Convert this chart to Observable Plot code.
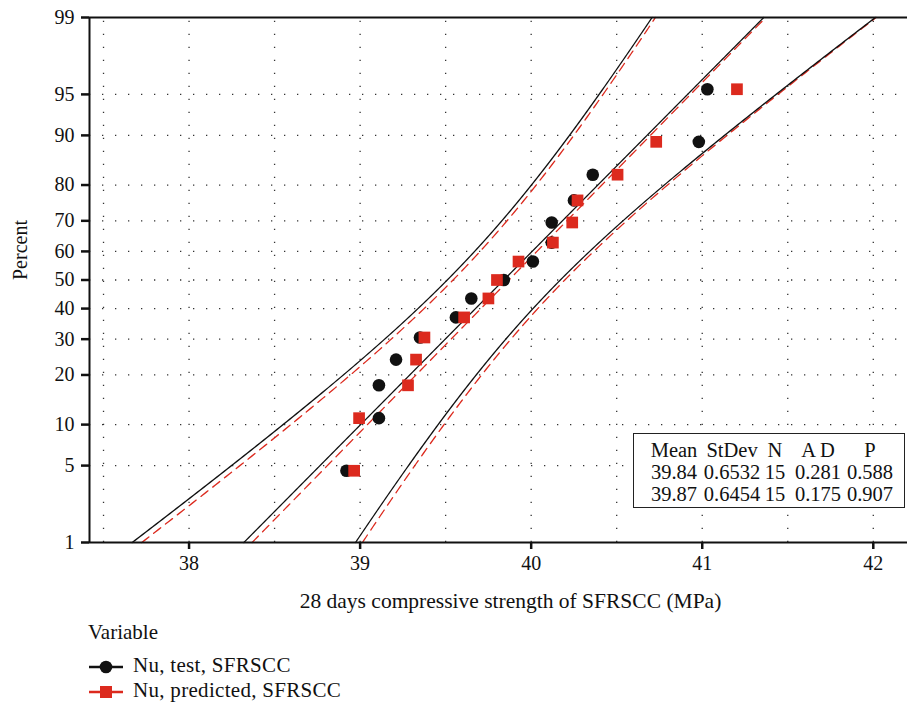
<!DOCTYPE html>
<html><head><meta charset="utf-8">
<script src="https://cdn.jsdelivr.net/npm/d3@7"></script>
<script src="https://cdn.jsdelivr.net/npm/@observablehq/plot@0.6"></script>
<style>
body{margin:0;background:#fff;font-family:"Liberation Serif",serif;color:#111;}
#wrap{position:relative;width:907px;height:705px;overflow:hidden;}
#stats{position:absolute;left:633px;top:433px;width:270px;height:73px;border:1.5px solid #222;background:#fff;font-size:20.5px;}
#stats div{position:absolute;transform:translateX(-50%);white-space:nowrap;line-height:22px;}
#legend{position:absolute;left:80px;top:620px;font-size:21px;}
.row{position:absolute;left:9px;white-space:nowrap;height:24px;}
.row svg{position:absolute;left:0;top:0;}
.row span{position:absolute;left:44px;top:0;line-height:24px;letter-spacing:0.3px;}
</style></head><body><div id="wrap"></div>
<script>
// ---- data ----
const seriesNames = ["Nu, test, SFRSCC", "Nu, predicted, SFRSCC"];
const seriesColors = ["#111111", "#dc2a1e"];
const testValues = [38.92, 39.11, 39.11, 39.21, 39.35, 39.56, 39.65, 39.84, 40.01, 40.12, 40.12, 40.25, 40.36, 40.98, 41.03];
const predictedValues = [38.965, 38.994, 39.28, 39.327, 39.376, 39.608, 39.75, 39.80, 39.926, 40.127, 40.24, 40.271, 40.505, 40.731, 41.203];
const statHeaders = ["Mean", "StDev", "N", "A D", "P"];
const statMean = [39.84, 39.87];
const statStDev = [0.6532, 0.6454];
const statN = [15, 15];
const statAD = [0.281, 0.175];
const statP = [0.588, 0.907];
const percentTicks = [1, 5, 10, 20, 30, 40, 50, 60, 70, 80, 90, 95, 99];
const percentGrid = [5, 10, 20, 30, 40, 50, 60, 70, 80, 90, 95];
const xTicks = [38, 39, 40, 41, 42];
const xGrid = [37.5, 38, 38.5, 39, 39.5, 40, 40.5, 41, 41.5, 42];
const xLabel = "28 days compressive strength of SFRSCC (MPa)";
const yLabel = "Percent";

// inverse normal CDF (Acklam)
function probit(p) {
  const a=[-3.969683028665376e+01,2.209460984245205e+02,-2.759285104469687e+02,1.383577518672690e+02,-3.066479806614716e+01,2.506628277459239e+00];
  const b=[-5.447609879822406e+01,1.615858368580409e+02,-1.556989798598866e+02,6.680131188771972e+01,-1.328068155288572e+01];
  const c=[-7.784894002430293e-03,-3.223964580411365e-01,-2.400758277161838e+00,-2.549732539343734e+00,4.374664141464968e+00,2.938163982698783e+00];
  const d=[7.784695709041462e-03,3.224671290700398e-01,2.445134137142996e+00,3.754408661907416e+00];
  const pl=0.02425, ph=1-pl; let q,r;
  if (p<pl){q=Math.sqrt(-2*Math.log(p));return (((((c[0]*q+c[1])*q+c[2])*q+c[3])*q+c[4])*q+c[5])/((((d[0]*q+d[1])*q+d[2])*q+d[3])*q+1);}
  if (p>ph){q=Math.sqrt(-2*Math.log(1-p));return -(((((c[0]*q+c[1])*q+c[2])*q+c[3])*q+c[4])*q+c[5])/((((d[0]*q+d[1])*q+d[2])*q+d[3])*q+1);}
  q=p-0.5;r=q*q;return (((((a[0]*r+a[1])*r+a[2])*r+a[3])*r+a[4])*r+a[5])*q/(((((b[0]*r+b[1])*r+b[2])*r+b[3])*r+b[4])*r+1);
}
const zOf = pct => probit(pct / 100);
const zLabel = new Map(percentTicks.map(p => [zOf(p), p]));

// points with median-rank plotting positions
const seriesValues = [testValues, predictedValues];
const points = seriesValues.map((vals, s) => {
  const sorted = vals.slice().sort((a, b) => a - b), n = sorted.length;
  return sorted.map((v, i) => ({series: s, x: v, z: zOf((i + 1 - 0.3) / (n + 0.4) * 100)}));
});

// fitted lines and 95% confidence bands from the listed statistics
const zLo = zOf(1), zHi = zOf(99);
const zs = d3.range(0, 201).map(i => zLo + (zHi - zLo) * i / 200);
function curves(s) {
  const m = statMean[s], sd = statStDev[s], n = statN[s];
  const fit = [], lo = [], hi = [];
  for (const z of zs) {
    const xp = m + sd * z, h = 1.96 * sd * Math.sqrt(1 / n + z * z / (2 * (n - 1)));
    fit.push({x: xp, z}); lo.push({x: xp - h, z}); hi.push({x: xp + h, z});
  }
  return [fit, lo, hi];
}
const cTest = curves(0), cPred = curves(1);

const FONT = "Liberation Serif";
const chart = Plot.plot({
  width: 907, height: 620,
  marginTop: 17, marginLeft: 89, marginRight: 0, marginBottom: 78,
  style: {fontFamily: FONT, fontSize: "20px", color: "#111", background: "transparent", overflow: "visible"},
  x: {domain: [37.418, 42.2], label: null},
  y: {domain: [zLo, zHi], label: null},
  marks: [
    Plot.ruleX(xGrid, {x: d => d, y1: zLo, y2: zHi, stroke: "#333", strokeWidth: 1.3, strokeDasharray: "1.3 11.7"}),
    Plot.ruleY(percentGrid.map(zOf), {y: d => d, stroke: "#333", strokeWidth: 1.3, strokeDasharray: "1.3 11.7"}),
    ...cPred.map(c => Plot.line(c, {x: "x", y: "z", stroke: seriesColors[1], strokeWidth: 1.3, strokeDasharray: "9 6"})),
    ...cTest.map(c => Plot.line(c, {x: "x", y: "z", stroke: seriesColors[0], strokeWidth: 1.3})),
    Plot.ruleY([zLo, zHi], {stroke: "#111", strokeWidth: 2}),
    Plot.ruleX([37.418], {stroke: "#111", strokeWidth: 2}),
    Plot.axisY(percentTicks.map(zOf), {tickSize: 8, tickPadding: 7, strokeWidth: 2.5, tickFormat: z => zLabel.get(z), fontSize: 20, label: null}),
    Plot.axisX(xTicks, {tickSize: 7, tickPadding: 6, strokeWidth: 2.5, tickFormat: d => String(d), fontSize: 20, label: null}),
    Plot.text([yLabel], {frameAnchor: "left", dx: -69, rotate: -90, fontSize: 20}),
    Plot.text([xLabel], {frameAnchor: "bottom", dy: 65, dx: 12, fontSize: 21.5}),
    Plot.dot(points[0], {x: "x", y: "z", r: 6.3, fill: seriesColors[0], stroke: "none", symbol: "circle"}),
    Plot.dot(points[1], {x: "x", y: "z", r: 6.6, fill: seriesColors[1], stroke: "none", symbol: "square"})
  ]
});
const wrap = document.getElementById("wrap");
wrap.appendChild(chart);

// stats table (column centres relative to the box)
const colCentres = [40, 98, 141, 184, 236];
const stats = document.createElement("div");
stats.id = "stats";
const rows = [statHeaders].concat(statMean.map((m, i) => [m.toFixed(2), statStDev[i].toFixed(4), statN[i], statAD[i].toFixed(3), statP[i].toFixed(3)]));
let sh = "";
rows.forEach((r, ri) => r.forEach((c, ci) => {
  sh += `<div style="left:${colCentres[ci]}px;top:${5 + ri * 22}px">${c}</div>`;
}));
stats.innerHTML = sh;
wrap.appendChild(stats);

// legend
const legend = document.createElement("div");
legend.id = "legend";
let html = `<div style="position:absolute;left:8px;top:0;white-space:nowrap;line-height:24px;">Variable</div>`;
seriesNames.forEach((name, i) => {
  const sym = i === 0
    ? `<circle cx="17" cy="12" r="6.3" fill="${seriesColors[0]}"/>`
    : `<rect x="11" y="6" width="12" height="12" fill="${seriesColors[1]}"/>`;
  html += `<div class="row" style="top:${35 + i * 25}px"><svg width="36" height="24"><line x1="0" x2="34" y1="12" y2="12" stroke="${seriesColors[i]}" stroke-width="2.5"/>${sym}</svg><span style="top:-2px">${name}</span></div>`;
});
legend.innerHTML = html;
wrap.appendChild(legend);
</script></body></html>
